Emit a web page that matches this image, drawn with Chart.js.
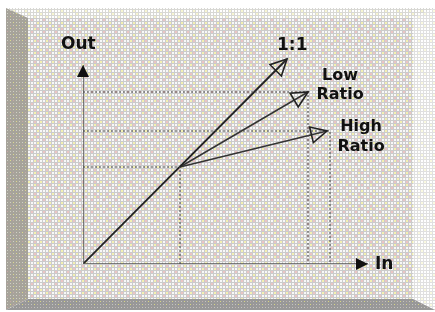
<!DOCTYPE html>
<html>
<head>
<meta charset="utf-8">
<script src="https://cdn.jsdelivr.net/npm/chart.js@4/dist/chart.umd.min.js"></script>
<style>
  body { margin: 0; background: #fff; }
  #wrap { width: 435px; height: 312px; }
</style>
</head>
<body>
<div id="wrap"><canvas id="ratio-chart" width="435" height="312"></canvas></div>
<script>
// Compressor transfer curve: input level vs output level
const knee = { x: 9.7, y: 9.7 };
const unityEnd = { x: 20.4, y: 20.5 };
const lowRatioEnd = { x: 22.5, y: 17.2 };
const highRatioEnd = { x: 24.4, y: 13.3 };
const inAxisEnd = 28.5;
const outAxisEnd = 19.9;

// Dotted tile like the dithered original (4x4 dots, 3px apart)
const dotMap = [
  [0, 1, 0, 2],
  [2, 0, 0, 1],
  [0, 0, 2, 0],
  [1, 0, 0, 0]
];
function makePattern(ctx, base, dots, size) {
  const c = document.createElement("canvas");
  c.width = 12; c.height = 12;
  const g = c.getContext("2d");
  g.fillStyle = base;
  g.fillRect(0, 0, 12, 12);
  for (let r = 0; r < 4; r++) {
    for (let q = 0; q < 4; q++) {
      g.fillStyle = dots[dotMap[r][q]];
      g.fillRect(q * 3 + 1, r * 3 + 1, size, size);
    }
  }
  return ctx.createPattern(c, "repeat");
}

const panelPlugin = {
  id: "panel",
  beforeDraw(chart) {
    const ctx = chart.ctx;
    ctx.save();
    ctx.fillStyle = "#fff";
    ctx.fillRect(0, 0, 435, 312);
    const L = 6, T = 8, R = 435, B = 310, iL = 28, iT = 18, iR = 413, iB = 299;
    ctx.fillStyle = makePattern(ctx, "#cbcbcb", ["#f8f8f8", "#f4f1b0", "#ecc4c4"], 2);
    ctx.fillRect(iL, iT, iR - iL, iB - iT);
    const poly = (pts, fill) => {
      ctx.beginPath();
      ctx.moveTo(pts[0][0], pts[0][1]);
      pts.slice(1).forEach(p => ctx.lineTo(p[0], p[1]));
      ctx.closePath();
      ctx.fillStyle = fill;
      ctx.fill();
    };
    poly([[L, T], [R, T], [iR, iT], [iL, iT]], makePattern(ctx, "#d8d8d4", ["#ffffff", "#f8f6d0", "#ffffff"], 2));
    poly([[R, T], [R, B], [iR, iB], [iR, iT]], makePattern(ctx, "#e0e0e0", ["#ffffff", "#fbfae0", "#ffffff"], 2));
    poly([[L, T], [iL, iT], [iL, iB], [L, B]], makePattern(ctx, "#a6a39a", ["#d0d0c4", "#dcd88a", "#c8a8a8"], 1));
    poly([[L, B], [iL, iB], [iR, iB], [R, B]], makePattern(ctx, "#989898", ["#c4c4c0", "#d8d680", "#c0b0b0"], 1));
    ctx.restore();
  },
  afterDatasetsDraw(chart) {
    const ctx = chart.ctx;
    const xs = chart.scales.x, ys = chart.scales.y;
    ctx.save();
    chart.data.datasets.forEach(ds => {
      if (!ds.head) return;
      const n = ds.data.length;
      const a = ds.data[n - 2], b = ds.data[n - 1];
      const x0 = xs.getPixelForValue(a.x), y0 = ys.getPixelForValue(a.y);
      const x1 = xs.getPixelForValue(b.x), y1 = ys.getPixelForValue(b.y);
      const ang = Math.atan2(y1 - y0, x1 - x0);
      const len = ds.head === "filled" ? 12 : 16;
      const half = ds.head === "filled" ? 6 : 8;
      const bx = x1 - len * Math.cos(ang), by = y1 - len * Math.sin(ang);
      const px = -Math.sin(ang) * half, py = Math.cos(ang) * half;
      ctx.beginPath();
      ctx.moveTo(x1, y1);
      ctx.lineTo(bx + px, by + py);
      ctx.lineTo(bx - px, by - py);
      ctx.closePath();
      if (ds.head === "filled") {
        ctx.fillStyle = "#111";
        ctx.fill();
      } else {
        ctx.lineWidth = 1.6;
        ctx.strokeStyle = "#222";
        ctx.stroke();
      }
    });

    // labels
    ctx.fillStyle = "#111";
    ctx.font = "bold 17px 'DejaVu Sans'";
    ctx.textBaseline = "middle";
    ctx.textAlign = "left";
    ctx.fillText("Out", 61, 45);
    ctx.fillText("In", 375, 265);
    ctx.fillText("1:1", 277, 46);
    ctx.font = "bold 16px 'DejaVu Sans'";
    ctx.textAlign = "center";
    ctx.fillText("Low", 340, 76);
    ctx.fillText("Ratio", 340, 95);
    ctx.fillText("High", 361, 127);
    ctx.fillText("Ratio", 361, 147);
    ctx.restore();
  }
};

const guide = { borderColor: "#444", borderWidth: 1, borderDash: [2, 2], pointRadius: 0, showLine: true, fill: false };
const solid = { borderColor: "#222", borderWidth: 1.8, pointRadius: 0, showLine: true, fill: false };

new Chart(document.getElementById("ratio-chart"), {
  type: "scatter",
  data: {
    datasets: [
      { ...guide, data: [{ x: 0, y: knee.y }, knee, { x: knee.x, y: 0 }] },
      { ...guide, data: [{ x: 0, y: lowRatioEnd.y }, lowRatioEnd, { x: lowRatioEnd.x, y: 0 }] },
      { ...guide, data: [{ x: 0, y: highRatioEnd.y }, { x: highRatioEnd.x + 0.3, y: highRatioEnd.y }, { x: highRatioEnd.x + 0.3, y: 0 }] },
      { ...solid, borderColor: "#555", borderWidth: 1.5, head: "filled", data: [{ x: 0, y: 0 }, { x: 0, y: outAxisEnd }] },
      { ...solid, borderColor: "#555", borderWidth: 1.5, head: "filled", data: [{ x: 0, y: 0 }, { x: inAxisEnd, y: 0 }] },
      { ...solid, head: "open", data: [{ x: 0, y: 0 }, unityEnd] },
      { ...solid, borderColor: "#333", borderWidth: 1.5, head: "open", data: [knee, lowRatioEnd] },
      { ...solid, borderColor: "#333", borderWidth: 1.5, head: "open", data: [knee, highRatioEnd] }
    ]
  },
  options: {
    responsive: false,
    animation: false,
    layout: { padding: { left: 83, right: 22, top: 30, bottom: 48 } },
    plugins: { legend: { display: false }, tooltip: { enabled: false } },
    scales: {
      x: { type: "linear", min: 0, max: 33, display: false },
      y: { type: "linear", min: 0, max: 23.4, display: false }
    }
  },
  plugins: [panelPlugin]
});
</script>
</body>
</html>
